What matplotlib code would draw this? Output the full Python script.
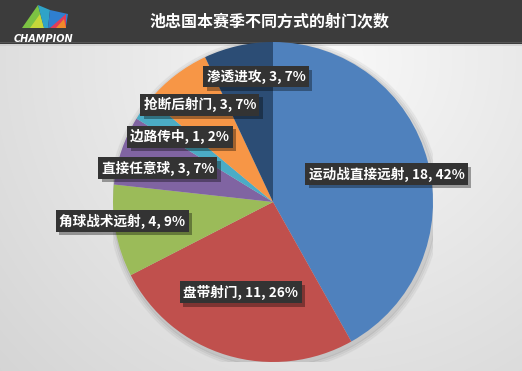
import numpy as np
import matplotlib
matplotlib.use("Agg")
import matplotlib.pyplot as plt
from matplotlib.patches import Polygon, Rectangle
import matplotlib.patheffects as pe

plt.rcParams['font.family'] = ['Noto Sans CJK SC', 'DejaVu Sans']

title = "池忠国本赛季不同方式的射门次数"
categories = ["运动战直接远射", "盘带射门", "角球战术远射", "直接任意球", "边路传中", "抢断后射门", "渗透进攻"]
values = [18, 11, 4, 3, 1, 3, 3]
colors = ["#4f81bd", "#c0504d", "#9bbb59", "#8064a2", "#4bacc6", "#f79646", "#2c4d75"]

# label layout: radius fraction and angle tweak (deg) relative to wedge mid-angle
label_r = [0.73, 0.60, 0.95, 0.75, 0.71, 0.76, 0.79]
label_dtheta = [-0.8, -2.9, -3.3, 2.4, 0.6, -0.7, -4.9]

W, H = 522, 371
fig = plt.figure(figsize=(W / 100, H / 100), dpi=100)

# background gradient
bg = fig.add_axes([0, 0, 1, 1])
bg.set_axis_off()
yy, xx = np.mgrid[0:H, 0:W]
cx, cy = 330, 60
d = np.sqrt(((xx - cx) / 420.0) ** 2 + ((yy - cy) / 420.0) ** 2)
g = 0.975 - 0.13 * np.clip(d, 0, 1.2)
img = np.dstack([g, g, g])
bg.imshow(img, extent=[0, W, H, 0], aspect='auto', interpolation='bilinear')
bg.set_xlim(0, W)
bg.set_ylim(H, 0)
# header band
bg.add_patch(Rectangle((0, 0), W, 44, facecolor="#3c3c3c", edgecolor='none'))
bg.add_patch(Rectangle((0, 41.5), W, 1.2, facecolor="#555555", edgecolor='none'))
bg.add_patch(Rectangle((0, 44), W, 1.5, facecolor="#c8c8c8", edgecolor='none', alpha=0.6))

# logo
bg.add_patch(Polygon([[22, 28], [38, 5], [44, 28]], closed=True, facecolor="#7cc243", edgecolor='none'))
bg.add_patch(Polygon([[30, 28], [40, 14], [44, 28]], closed=True, facecolor="#c6d73a", edgecolor='none'))
bg.add_patch(Polygon([[38, 5], [50, 10], [48, 28], [44, 28]], closed=True, facecolor="#2fa3c8", edgecolor='none'))
bg.add_patch(Polygon([[48, 28], [50, 10], [68, 14], [66, 26]], closed=True, facecolor="#2f7fd0", edgecolor='none'))
bg.add_patch(Polygon([[50, 28], [66, 14], [66, 28]], closed=True, facecolor="#e03c5a", edgecolor='none'))
bg.add_patch(Polygon([[56, 28], [64, 19], [66, 28]], closed=True, facecolor="#f08a2a", edgecolor='none'))
bg.text(14, 39, "CHAMPION", color="white", fontsize=7, fontweight='bold', style='italic',
        family='DejaVu Sans', va='center', ha='left')

# title
bg.text(270, 21, title, color="white", fontsize=11.5, fontweight='bold', ha='center', va='center')

# pie
R = 160
pcx, pcy = 273, 202
ax = fig.add_axes([(pcx - R) / W, (H - pcy - R) / H, 2 * R / W, 2 * R / H])
ax.set_axis_off()
# soft shadow
for k, a in enumerate([0.05, 0.04, 0.03]):
    sh = plt.Circle((0.01, -0.015), 1.0 + 0.012 * (k + 1), color='black', alpha=a, zorder=0)
    ax.add_patch(sh)
wedges, _ = ax.pie(values, colors=colors, startangle=90, counterclock=False,
                   radius=1.0, wedgeprops=dict(linewidth=0))
ax.set_xlim(-1, 1)
ax.set_ylim(-1, 1)
ax.set_aspect('equal')

total = sum(values)
for i, (w, cat, v) in enumerate(zip(wedges, categories, values)):
    mid = np.deg2rad((w.theta1 + w.theta2) / 2 + label_dtheta[i])
    x = label_r[i] * np.cos(mid)
    y = label_r[i] * np.sin(mid)
    pct = round(100 * v / total)
    s = f"{cat}, {v}, {pct}%"
    t = ax.text(x, y, s, ha='center', va='center', fontsize=9.8, fontweight='bold', color='white',
                bbox=dict(boxstyle='square,pad=0.25', facecolor='#333333', edgecolor='none'),
                zorder=6)
    t.get_bbox_patch().set_path_effects([
        pe.SimplePatchShadow(offset=(2.5, -2.5), shadow_rgbFace='black', alpha=0.35),
        pe.Normal()])

fig.savefig("out.png", dpi=100)
